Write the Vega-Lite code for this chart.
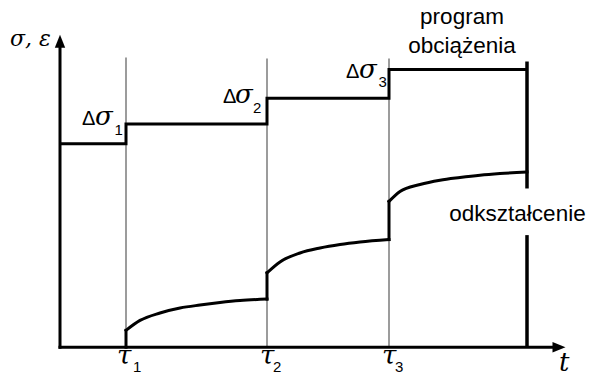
{
  "$schema": "https://vega.github.io/schema/vega-lite/v6.json",
  "width": 589,
  "height": 376,
  "autosize": {"type": "fit", "contains": "padding"},
  "padding": 0,
  "background": "white",
  "config": {"view": {"stroke": null}},
  "encoding": {
    "x": {"field": "t", "type": "quantitative", "scale": {"domain": [-60, 529], "nice": false, "zero": false}, "axis": null},
    "y": {"field": "v", "type": "quantitative", "scale": {"domain": [-26, 350], "nice": false, "zero": false}, "axis": null}
  },
  "layer": [
    {
      "description": "grey guides at the load-step times tau1..tau3",
      "data": {"values": [
        {"t": 66, "v": 0, "v2": 292},
        {"t": 207, "v": 0, "v2": 291},
        {"t": 329, "v": 0, "v2": 291}
      ]},
      "mark": {"type": "rule", "color": "#9c9c9c", "strokeWidth": 2},
      "encoding": {"y2": {"field": "v2"}}
    },
    {
      "description": "end of the loading program, broken around its label",
      "data": {"values": [
        {"t": 467, "v": 0, "v2": 113},
        {"t": 467, "v": 160, "v2": 288}
      ]},
      "mark": {"type": "rule", "color": "#000000", "strokeWidth": 3.5},
      "encoding": {"y2": {"field": "v2"}}
    },
    {
      "description": "axis lines",
      "data": {"values": [
        {"t": -1.5, "t2": 494, "v": 0, "v2": 0},
        {"t": 0, "t2": 0, "v": -1.5, "v2": 304}
      ]},
      "mark": {"type": "rule", "color": "#000000", "strokeWidth": 3},
      "encoding": {"x2": {"field": "t2"}, "y2": {"field": "v2"}}
    },
    {
      "description": "arrow heads",
      "data": {"values": [
        {"t": 0, "v": 308.5, "dir": "up"},
        {"t": 499, "v": 0, "dir": "right"}
      ]},
      "mark": {"type": "point", "filled": true, "color": "#000000", "opacity": 1, "size": 169},
      "encoding": {
        "shape": {"field": "dir", "type": "nominal", "legend": null,
          "scale": {"domain": ["up", "right"], "range": ["M0,-1L0.8,1L-0.8,1Z", "M1,0L-1,0.8L-1,-0.8Z"]}}
      }
    },
    {
      "description": "stepped loading program (stress)",
      "data": {"values": [
        {"i": 0, "t": 0, "v": 205},
        {"i": 1, "t": 66, "v": 205},
        {"i": 2, "t": 66, "v": 225},
        {"i": 3, "t": 207, "v": 225},
        {"i": 4, "t": 207, "v": 251},
        {"i": 5, "t": 329, "v": 251},
        {"i": 6, "t": 329, "v": 280},
        {"i": 7, "t": 467, "v": 280}
      ]},
      "mark": {"type": "line", "color": "#000000", "strokeWidth": 3, "interpolate": "linear", "strokeJoin": "miter"},
      "encoding": {"order": {"field": "i", "type": "quantitative"}}
    },
    {
      "description": "creep strain response",
      "data": {"values": [
        {"seg": "a", "i": 0, "t": 66, "v": 0},
        {"seg": "a", "i": 1, "t": 66, "v": 17},
        {"seg": "b", "i": 2, "t": 66, "v": 17},
        {"seg": "b", "i": 3, "t": 80, "v": 27},
        {"seg": "b", "i": 4, "t": 100, "v": 34.5},
        {"seg": "b", "i": 5, "t": 120, "v": 39.5},
        {"seg": "b", "i": 6, "t": 140, "v": 42.5},
        {"seg": "b", "i": 7, "t": 160, "v": 45},
        {"seg": "b", "i": 8, "t": 180, "v": 47},
        {"seg": "b", "i": 9, "t": 207, "v": 48.5},
        {"seg": "c", "i": 10, "t": 207, "v": 48.5},
        {"seg": "c", "i": 11, "t": 207, "v": 75},
        {"seg": "d", "i": 12, "t": 207, "v": 75},
        {"seg": "d", "i": 13, "t": 220, "v": 86},
        {"seg": "d", "i": 14, "t": 240, "v": 95},
        {"seg": "d", "i": 15, "t": 260, "v": 100},
        {"seg": "d", "i": 16, "t": 280, "v": 103.5},
        {"seg": "d", "i": 17, "t": 300, "v": 106},
        {"seg": "d", "i": 18, "t": 329, "v": 108.5},
        {"seg": "e", "i": 19, "t": 329, "v": 108.5},
        {"seg": "e", "i": 20, "t": 329, "v": 147},
        {"seg": "f", "i": 21, "t": 329, "v": 147},
        {"seg": "f", "i": 22, "t": 340, "v": 157},
        {"seg": "f", "i": 23, "t": 360, "v": 164},
        {"seg": "f", "i": 24, "t": 380, "v": 168.3},
        {"seg": "f", "i": 25, "t": 400, "v": 171},
        {"seg": "f", "i": 26, "t": 420, "v": 173.3},
        {"seg": "f", "i": 27, "t": 440, "v": 175},
        {"seg": "f", "i": 28, "t": 467, "v": 176.7}
      ]},
      "mark": {"type": "line", "color": "#000000", "strokeWidth": 3, "interpolate": "monotone", "strokeCap": "square"},
      "encoding": {
        "detail": {"field": "seg", "type": "nominal"},
        "order": {"field": "i", "type": "quantitative"}
      }
    },
    {
      "description": "plain captions",
      "data": {"values": [
        {"t": 402, "v": 326, "label": "program"},
        {"t": 402, "v": 297, "label": "obciążenia"},
        {"t": 457.5, "v": 127, "label": "odkształcenie"}
      ]},
      "mark": {"type": "text", "font": "Liberation Sans", "fontSize": 22.5, "align": "center", "baseline": "alphabetic", "color": "#000000"},
      "encoding": {"text": {"field": "label"}}
    },
    {
      "description": "increment symbols",
      "data": {"values": [
        {"t": 22, "v": 224, "label": "Δ"},
        {"t": 163, "v": 246, "label": "Δ"},
        {"t": 286, "v": 271, "label": "Δ"}
      ]},
      "mark": {"type": "text", "font": "Liberation Sans", "fontSize": 20, "align": "left", "baseline": "alphabetic", "color": "#000000"},
      "encoding": {"text": {"field": "label"}}
    },
    {
      "description": "axis symbol",
      "data": {"values": [
        {"t": -50, "v": 304, "label": "σ, ε"}
      ]},
      "mark": {"type": "text", "font": "DejaVu Serif", "fontStyle": "italic", "fontSize": 22, "align": "left", "baseline": "alphabetic", "color": "#000000"},
      "encoding": {"text": {"field": "label"}}
    },
    {
      "description": "italic symbols",
      "data": {"values": [
        {"t": 35, "v": 224, "label": "σ"},
        {"t": 175, "v": 246, "label": "σ"},
        {"t": 299, "v": 271, "label": "σ"},
        {"t": 57, "v": -17, "label": "τ"},
        {"t": 200, "v": -17, "label": "τ"},
        {"t": 322, "v": -17, "label": "τ"},
        {"t": 499, "v": -24, "label": "t"}
      ]},
      "mark": {"type": "text", "font": "DejaVu Serif", "fontStyle": "italic", "fontSize": 26, "align": "left", "baseline": "alphabetic", "color": "#000000"},
      "encoding": {"text": {"field": "label"}}
    },
    {
      "description": "subscripts",
      "data": {"values": [
        {"t": 54.5, "v": 214, "label": "1"},
        {"t": 193, "v": 236, "label": "2"},
        {"t": 318.5, "v": 262, "label": "3"},
        {"t": 73, "v": -25, "label": "1"},
        {"t": 213, "v": -25, "label": "2"},
        {"t": 335, "v": -25, "label": "3"}
      ]},
      "mark": {"type": "text", "font": "Liberation Sans", "fontSize": 15, "align": "left", "baseline": "alphabetic", "color": "#000000"},
      "encoding": {"text": {"field": "label"}}
    }
  ]
}
